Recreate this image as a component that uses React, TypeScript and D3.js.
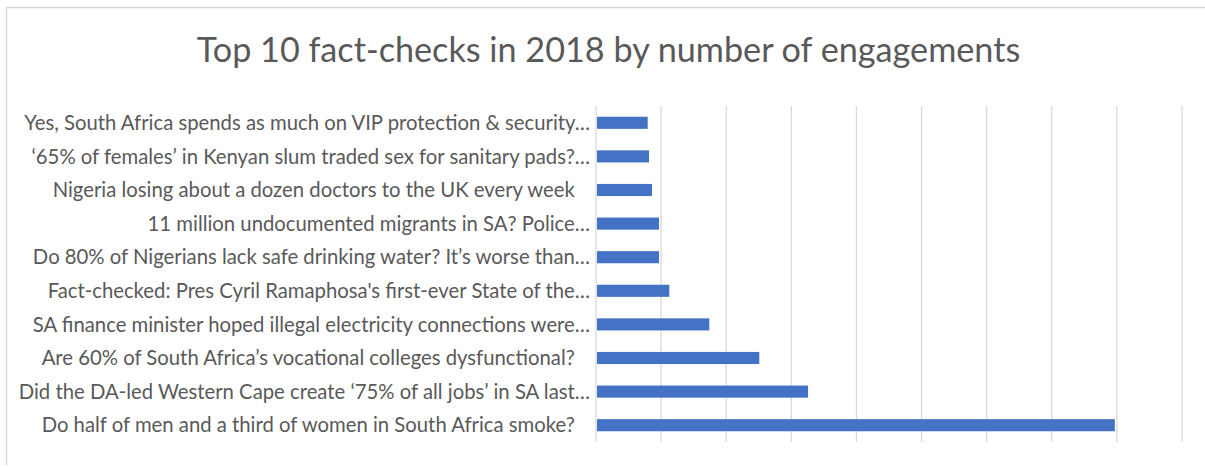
import React from "react";
import * as d3 from "d3";

const title = "Top 10 fact-checks in 2018 by number of engagements";

const categories = [
  "Yes, South Africa spends as much on VIP protection & security…",
  "‘65% of females’ in Kenyan slum traded sex for sanitary pads?…",
  "Nigeria losing about a dozen doctors to the UK every week\u2003",
  "11 million undocumented migrants in SA? Police…",
  "Do 80% of Nigerians lack safe drinking water? It’s worse than…",
  "Fact-checked: Pres Cyril Ramaphosa's first-ever State of the…",
  "SA finance minister hoped illegal electricity connections were…",
  "Are 60% of South Africa’s vocational colleges dysfunctional?\u2003",
  "Did the DA-led Western Cape create ‘75% of all jobs’ in SA last…",
  "Do half of men and a third of women in South Africa smoke?\u2003",
];

const engagements = [794, 814, 860, 968, 968, 1126, 1740, 2508, 3257, 7968];

const gridTicks = [0, 1000, 2000, 3000, 4000, 5000, 6000, 7000, 8000, 9000];

const W = 1205;
const H = 467;

export default function App() {
  const x = d3.scaleLinear().domain([0, 9000]).range([596, 1182]);
  const y = d3
    .scaleBand<string>()
    .domain(categories)
    .range([106, 442])
    .paddingInner(0.64)
    .paddingOuter(0.32);

  const font = "Lato, 'Open Sans', sans-serif";

  return (
    <svg
      width={W}
      height={H}
      style={{ position: "absolute", left: 0, top: 0, background: "#fff" }}
    >
      <rect x={0} y={0} width={W} height={H} fill="#fff" />
      {/* frame */}
      <line x1={6.5} y1={7} x2={6.5} y2={465} stroke="#d9d9d9" strokeWidth={1.5} />
      <line x1={6} y1={7.5} x2={W} y2={7.5} stroke="#d9d9d9" strokeWidth={1.5} />

      <text
        x={608.5}
        y={62}
        textAnchor="middle"
        fontFamily={font}
        fontSize={34.2}
        fill="#595959"
      >
        {title}
      </text>

      {gridTicks.map((t) => (
        <line
          key={t}
          x1={x(t)}
          x2={x(t)}
          y1={106}
          y2={442}
          stroke="#d9d9d9"
          strokeWidth={1.3}
        />
      ))}

      {categories.map((c, i) => (
        <rect
          key={c}
          x={x(0) + 1}
          y={y(c)!}
          width={x(engagements[i]) - x(0) - 1}
          height={y.bandwidth()}
          fill="#4472C4"
        />
      ))}

      {categories.map((c) => (
        <text
          key={c}
          x={590}
          y={y(c)! + y.bandwidth() / 2}
          dy="0.35em"
          textAnchor="end"
          fontFamily={font}
          fontSize={20.3}
          fill="#595959"
          style={{ whiteSpace: "pre" }}
        >
          {c}
        </text>
      ))}
    </svg>
  );
}
